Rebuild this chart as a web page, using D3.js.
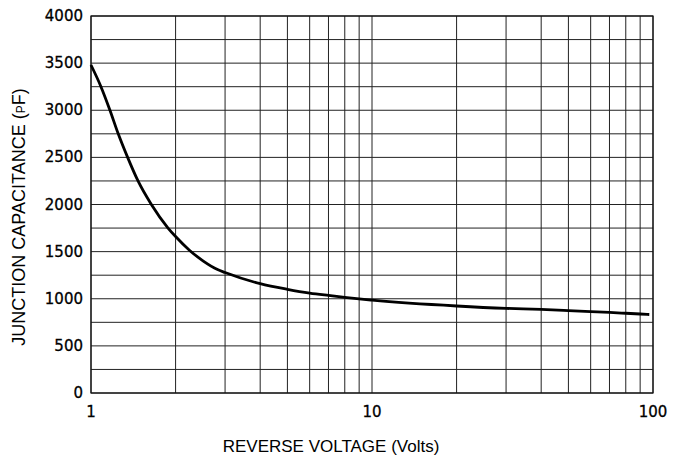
<html>
<script src='https://d3js.org/d3.v7.min.js'></script>
<style>
body {margin: 0; background: white;}
.tick-label {font: 15px 'DejaVu Sans', sans-serif; fill: #000; stroke: #000; stroke-width: 0.3px;}
.axis-title {font: 17px 'Liberation Sans', Arial, sans-serif; fill: #000;}
</style>
<body>
<svg width=686 height=461></svg>
<script>

// Reverse voltage (V) and junction capacitance (pF)
var voltage = [1.0, 1.085, 1.168, 1.25, 1.35, 1.47, 1.64, 1.88, 2, 2.24, 2.51, 2.82, 3, 4, 5, 6, 7, 8, 9, 10, 20, 30, 40, 50, 60, 70, 80, 90, 97];
var capacitance = [3480, 3250, 3000, 2750, 2500, 2250, 2000, 1750, 1660, 1515, 1400, 1310, 1278, 1160, 1100, 1060, 1035, 1015, 998, 985, 923, 898, 887, 874, 863, 855, 846, 838, 833];

var xTicks = [1, 10, 100];
var xGrid = [1, 2, 3, 4, 5, 6, 7, 8, 9, 10, 20, 30, 40, 50, 60, 70, 80, 90, 100];
var yTicks = [0, 500, 1000, 1500, 2000, 2500, 3000, 3500, 4000];
var yGrid = d3.range(0, 4001, 250);

var svg = d3.select("svg");

// plot area
var pLeft = 91, pTop = 16, pRight = 653, pBottom = 393;

var x = d3.scaleLog().domain([1, 100]).range([pLeft, pRight]);
var y = d3.scaleLinear().domain([0, 4000]).range([pBottom, pTop]);

// grid lines
svg.append("g").selectAll("line")
  .data(yGrid)
  .enter().append("line")
    .attr("x1", pLeft).attr("x2", pRight)
    .attr("y1", d => y(d)).attr("y2", d => y(d))
    .style("stroke", "#222").style("stroke-width", 1);

svg.append("g").selectAll("line")
  .data(xGrid)
  .enter().append("line")
    .attr("x1", d => x(d)).attr("x2", d => x(d))
    .attr("y1", pTop).attr("y2", pBottom)
    .style("stroke", "#222").style("stroke-width", 1);

// frame
svg.append("rect")
  .attr("x", pLeft).attr("y", pTop)
  .attr("width", pRight - pLeft).attr("height", pBottom - pTop)
  .style("fill", "none").style("stroke", "#111").style("stroke-width", 1.2);

// y tick labels
svg.append("g").selectAll("text")
  .data(yTicks)
  .enter().append("text")
    .attr("class", "tick-label")
    .attr("x", pLeft - 8)
    .attr("y", d => y(d) + 5)
    .attr("text-anchor", "end")
    .text(d => d);

// x tick labels
svg.append("g").selectAll("text")
  .data(xTicks)
  .enter().append("text")
    .attr("class", "tick-label")
    .attr("x", d => x(d))
    .attr("y", 417)
    .attr("text-anchor", "middle")
    .text(d => d);

// curve
var pts = voltage.map((v, i) => [v, capacitance[i]]);
svg.append("path")
  .datum(pts)
  .attr("fill", "none")
  .attr("stroke", "#000")
  .attr("stroke-width", 2.8)
  .attr("d", d3.line()
    .x(d => x(d[0]))
    .y(d => y(d[1]))
    .curve(d3.curveMonotoneX));

// axis titles
svg.append("text")
  .attr("class", "axis-title")
  .attr("x", 331).attr("y", 452)
  .attr("text-anchor", "middle")
  .text("REVERSE VOLTAGE (Volts)");

var yt = svg.append("text")
  .attr("class", "axis-title")
  .style("font-size", "18px")
  .attr("transform", "translate(25, 217) rotate(-90)")
  .attr("text-anchor", "middle");
yt.append("tspan").text("JUNCTION CAPACITANCE (");
yt.append("tspan").style("font-size", "12px").text("P");
yt.append("tspan").text("F)");

</script>
</body>
</html>
